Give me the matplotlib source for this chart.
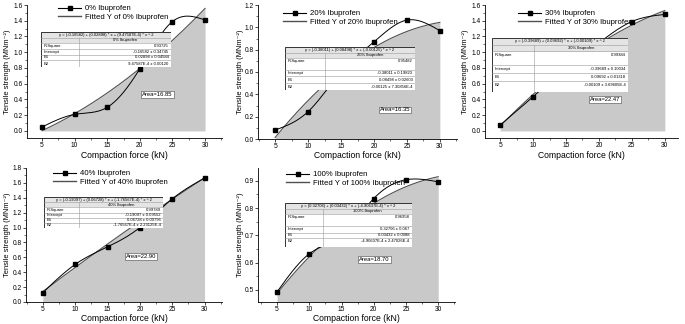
import numpy as np
import matplotlib
matplotlib.use("Agg")
import matplotlib.pyplot as plt
from matplotlib.lines import Line2D
from matplotlib.patches import Rectangle
from matplotlib.ticker import MultipleLocator, FormatStrFormatter

plt.rcParams['font.family'] = ['Liberation Sans', 'DejaVu Sans']

W, H = 685, 324

# ---------------- data ----------------
force = [5, 10, 15, 20, 25, 30]
labels = ["0% Ibuprofen", "20% Ibuprofen", "30% Ibuprofen", "40% Ibuprofen", "100% Ibuprofen"]
ts_0 = [0.05, 0.21, 0.30, 0.79, 1.39, 1.41]
ts_20 = [0.08, 0.245, 0.60, 0.87, 1.065, 0.97]
ts_30 = [0.075, 0.435, 0.80, 1.12, 1.39, 1.48]
ts_40 = [0.125, 0.505, 0.74, 1.00, 1.385, 1.665]
ts_100 = [0.492, 0.632, 0.70, 0.835, 0.904, 0.896]
series = [ts_0, ts_20, ts_30, ts_40, ts_100]

# quadratic fit coefficients (intercept, B1, B2) from the tables
coef_0 = [-0.16582, 0.02898, 9.47587e-4]
coef_20 = [-0.38011, 0.08498, -0.00125]
coef_30 = [-0.39689, 0.09692, -0.00109]
coef_40 = [-0.19097, 0.06728, -1.76567e-4]
coef_100 = [0.32706, 0.03432, -4.90637e-4]
coefs = [coef_0, coef_20, coef_30, coef_40, coef_100]

equations = [
    "y = (-0.16582) + (0.02898) * x + (9.47587E-4) * x ^ 2",
    "y = (-0.38011) + (0.08498) * x + (-0.00125) * x ^ 2",
    "y = (-0.39689) + (0.09692) * x + (-0.00109) * x ^ 2",
    "y = (-0.19097) + (0.06728) * x + (-1.76567E-4) * x ^ 2",
    "y = (0.32706) + (0.03432) * x + (-4.90637E-4) * x ^ 2",
]
r_square = ["0.93725", "0.95482", "0.99384", "0.99789", "0.96958"]
intercepts = ["-0.16582 ± 0.34745", "-0.38011 ± 0.19823", "-0.39689 ± 0.10034",
              "-0.19097 ± 0.09552", "0.32706 ± 0.067"]
b1_vals = ["0.02898 ± 0.04584", "0.08498 ± 0.02603", "0.09692 ± 0.01318",
           "0.06728 ± 0.00795", "0.03432 ± 0.0088"]
b2_vals = ["9.47587E-4 ± 0.00120", "-0.00125 ± 7.30856E-4", "-0.00109 ± 3.69605E-4",
           "-1.76567E-4 ± 2.23125E-4", "-4.90637E-4 ± 2.47026E-4"]
areas = ["Area=16.85", "Area=16.35", "Area=22.47", "Area=22.90", "Area=18.70"]

# ---------------- layout (pixels) ----------------
ax_boxes = [(27, 5, 222, 138), (258, 5, 457, 139), (485, 5, 678, 138),
            (26, 168, 222, 302), (258, 168, 455, 302)]
xlims = [(2.7, 32.6), (2.4, 32.6), (2.7, 32.0), (2.4, 32.7), (2.05, 32.6)]
ylims = [(-0.09, 1.6), (0, 1.2), (-0.09, 1.6), (0, 1.8), (0.455, 0.947)]
ymaj = [0.2, 0.2, 0.2, 0.2, 0.1]
ylabel_right = [11, 244, 469, 11, 244]
xlabel_top = [151, 151, 151, 314, 314]
area_pos = [(22.7, 0.46), (23.2, 0.26), (20.9, 0.40), (20.2, 0.61), (20.1, 0.61)]
legend_pos = [(58, 5), (283, 10), (518, 10), (53, 170), (286, 171)]
table_boxes = [(41, 32, 171, 67), (285, 47, 415, 90), (492, 38, 628, 92),
               (44, 197, 163, 228), (285, 203, 412, 247)]
table_div = [79, 325, 534, 79, 323]
row_h = [[1, 1, 1, 1, 1, 1.2], [1, 1, 2, 1.2, 1.2, 1.2], [1, 1, 2, 1.2, 1.2, 1.6],
         [1, 1, 1, 1, 1, 1], [1, 1, 2.2, 1.2, 1, 1.6]]


def natural_spline(x, y, n=300):
    x = np.asarray(x, float)
    y = np.asarray(y, float)
    k = len(x)
    h = np.diff(x)
    A = np.zeros((k, k))
    b = np.zeros(k)
    A[0, 0] = 1
    A[-1, -1] = 1
    for i in range(1, k - 1):
        A[i, i - 1] = h[i - 1]
        A[i, i] = 2 * (h[i - 1] + h[i])
        A[i, i + 1] = h[i]
        b[i] = 6 * ((y[i + 1] - y[i]) / h[i] - (y[i] - y[i - 1]) / h[i - 1])
    M = np.linalg.solve(A, b)
    xs = np.linspace(x[0], x[-1], n)
    ys = np.empty_like(xs)
    for j, xv in enumerate(xs):
        i = min(np.searchsorted(x, xv, side='right') - 1, k - 2)
        t1 = x[i + 1] - xv
        t0 = xv - x[i]
        ys[j] = (M[i] * t1 ** 3 / (6 * h[i]) + M[i + 1] * t0 ** 3 / (6 * h[i])
                 + (y[i] / h[i] - M[i] * h[i] / 6) * t1
                 + (y[i + 1] / h[i] - M[i + 1] * h[i] / 6) * t0)
    return xs, ys


def px_rect(box):
    l, t, r, b = box
    return [l / W, 1 - b / H, (r - l) / W, (b - t) / H]


def draw_table(fig, idx):
    box = table_boxes[idx]
    tax = fig.add_axes(px_rect(box), zorder=6)
    tax.set_xlim(0, 1)
    tax.set_ylim(0, 1)
    tax.axis('off')
    hs = np.array(row_h[idx], float)
    hs = hs / hs.sum()
    tops = 1 - np.concatenate([[0], np.cumsum(hs)])
    divx = (table_div[idx] - box[0]) / (box[2] - box[0])
    tax.add_patch(Rectangle((0, 0), 1, 1, facecolor='white', edgecolor='none'))
    tax.add_patch(Rectangle((0, tops[2]), 1, tops[0] - tops[2], facecolor='#e4e4e4', edgecolor='none'))
    for t in tops[1:-1]:
        tax.plot([0, 1], [t, t], color='#9a9a9a', lw=0.4)
    tax.plot([divx, divx], [0, tops[1]], color='#9a9a9a', lw=0.4)
    tax.add_patch(Rectangle((0, 0), 1, 1, facecolor='none', edgecolor='#333333', lw=0.7))
    fs = 3.0
    tax.text(0.5, (tops[0] + tops[1]) / 2, equations[idx], ha='center', va='center', fontsize=fs)
    tax.text((divx + 1) / 2, (tops[1] + tops[2]) / 2, labels[idx], ha='center', va='center', fontsize=fs)
    names = ["R-Square", "Intercept", "B1", "B2"]
    vals = [r_square[idx], intercepts[idx], b1_vals[idx], b2_vals[idx]]
    for k in range(4):
        top = tops[2 + k]
        bot = tops[3 + k]
        rh = hs[0]
        yc = top - rh / 2 if (top - bot) > 1.5 * rh else (top + bot) / 2
        tax.text(0.02, yc, names[k], ha='left', va='center', fontsize=fs)
        tax.text(0.98, yc, vals[k], ha='right', va='center', fontsize=fs)


fig = plt.figure(figsize=(W / 100, H / 100), dpi=100)

for i in range(5):
    ax = fig.add_axes(px_rect(ax_boxes[i]))
    l, t, r, b = ax_boxes[i]
    x = np.array(force, float)
    y = np.array(series[i], float)
    c = coefs[i]
    xf = np.linspace(x[0], x[-1], 200)
    yf = c[0] + c[1] * xf + c[2] * xf ** 2
    ax.fill_between(xf, 0, yf, color='#c9c9c9', lw=0, zorder=1)
    ax.plot(xf, yf, color='#505050', lw=0.8, zorder=2)
    xs, ys = natural_spline(x, y)
    ax.plot(xs, ys, color='black', lw=0.7, zorder=3)
    ax.plot(x, y, ls='none', marker='s', ms=3, color='black', zorder=4)

    ax.set_xlim(*xlims[i])
    ax.set_ylim(*ylims[i])
    ax.set_xticks(force)
    ax.xaxis.set_minor_locator(MultipleLocator(2.5))
    ax.yaxis.set_major_locator(MultipleLocator(ymaj[i]))
    ax.yaxis.set_minor_locator(MultipleLocator(ymaj[i] / 2))
    ax.yaxis.set_major_formatter(FormatStrFormatter('%.1f'))
    for s in ['top', 'right']:
        ax.spines[s].set_visible(False)
    for s in ['left', 'bottom']:
        ax.spines[s].set_linewidth(0.6)
    ax.tick_params(which='major', direction='out', length=2.2, width=0.5, labelsize=4.8, pad=1.0)
    ax.tick_params(which='minor', direction='out', length=1.3, width=0.4)
    ax.set_xlabel('Compaction force (kN)', fontsize=6.2)
    ax.set_ylabel('Tensile strength (MNm⁻²)', fontsize=5.4)
    ax.yaxis.set_label_coords((ylabel_right[i] - l) / (r - l), 0.5)
    ax.xaxis.set_label_coords(0.5, -(xlabel_top[i] - b) / (b - t))
    ax.set_facecolor('none')

    ax.text(area_pos[i][0], area_pos[i][1], areas[i], ha='center', va='center', fontsize=4.2,
            bbox=dict(boxstyle='square,pad=0.15', facecolor='white', edgecolor='#444444', lw=0.4),
            zorder=5)

    handles = [Line2D([], [], color='black', lw=0.8, marker='s', ms=3),
               Line2D([], [], color='#505050', lw=1.0)]
    lx, ly = legend_pos[i]
    ax.legend(handles, [labels[i], 'Fitted Y of ' + labels[i]], loc='upper left',
              bbox_to_anchor=(lx / W, 1 - ly / H), bbox_transform=fig.transFigure,
              frameon=False, fontsize=5.6, borderpad=0, borderaxespad=0,
              handlelength=3.0, handletextpad=0.5, labelspacing=0.15)

    draw_table(fig, i)

fig.savefig('out.png', dpi=100)
